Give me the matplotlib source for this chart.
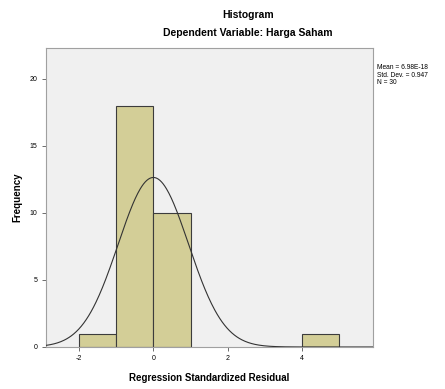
import numpy as np
import matplotlib
matplotlib.use("Agg")
import matplotlib.pyplot as plt

plt.rcParams['font.family'] = ['Liberation Sans', 'DejaVu Sans']
plt.rcParams['axes.unicode_minus'] = False

# histogram of standardized residuals (SPSS output)
bin_left = [-2, -1, 0, 4]
counts = [1, 18, 10, 1]
bin_width = 1.0

mean_res = 6.98e-18
std_res = 0.947
n_obs = 30

x_ticks = [-2, 0, 2, 4]
y_ticks = [0, 5, 10, 15, 20]

fig = plt.figure(figsize=(4.45, 3.89), dpi=100)
ax = fig.add_axes([0.1034, 0.108, 0.7346, 0.769])
ax.set_facecolor('#f0f0f0')

ax.bar(bin_left, counts, width=bin_width, align='edge',
       color='#d3ce97', edgecolor='#3c3c3c', linewidth=0.8, zorder=2)

# fitted normal curve
xs = np.linspace(-2.89, 5.91, 400)
ys = n_obs * bin_width / (std_res * np.sqrt(2 * np.pi)) * np.exp(-0.5 * ((xs - mean_res) / std_res) ** 2)
ax.plot(xs, ys, color='#333333', linewidth=0.8, zorder=3)

ax.set_xlim(-2.89, 5.91)
ax.set_ylim(0, 22.3)
ax.set_xticks(x_ticks)
ax.set_yticks(y_ticks)
ax.tick_params(labelsize=5, length=3, width=0.6, color='#555555', pad=3)
for s in ax.spines.values():
    s.set_color('#a0a0a0')
    s.set_linewidth(0.8)

ax.set_ylabel('Frequency', fontsize=7, fontweight='bold', labelpad=5)
ax.set_xlabel('Regression Standardized Residual', fontsize=7, fontweight='bold', labelpad=8)

fig.text(0.557, 0.962, 'Histogram', ha='center', va='center',
         fontsize=7.5, fontweight='bold')
fig.text(0.557, 0.915, 'Dependent Variable: Harga Saham', ha='center', va='center',
         fontsize=7.5, fontweight='bold')

fig.text(0.847, 0.835, 'Mean = 6.98E-18\nStd. Dev. = 0.947\nN = 30',
         ha='left', va='top', fontsize=4.8, linespacing=1.1)

fig.savefig('out.png', dpi=100)
